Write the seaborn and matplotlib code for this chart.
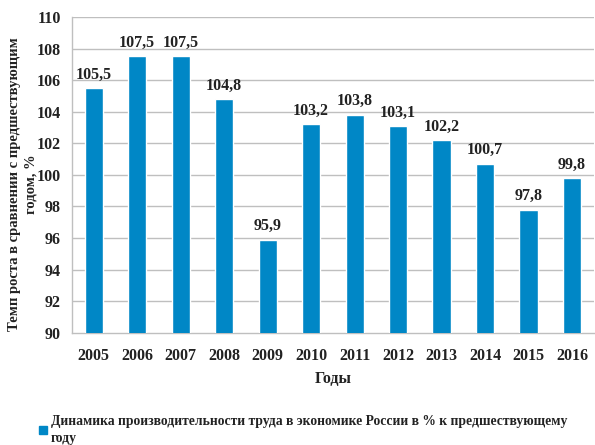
import matplotlib
matplotlib.use("Agg")
import matplotlib.pyplot as plt
import matplotlib.patches as mpatches
import seaborn as sns
import pandas as pd

years = ["2005", "2006", "2007", "2008", "2009", "2010",
         "2011", "2012", "2013", "2014", "2015", "2016"]
values = [105.5, 107.5, 107.5, 104.8, 95.9, 103.2,
          103.8, 103.1, 102.2, 100.7, 97.8, 99.8]
y_ticks = [90, 92, 94, 96, 98, 100, 102, 104, 106, 108, 110]

bar_color = "#0087C6"
grid_color = "#BFBFBF"
text_color = "#222222"

sns.set_theme(style="white")
plt.rcParams["font.family"] = ["Liberation Serif", "DejaVu Serif"]
plt.rcParams["font.weight"] = "bold"

df = pd.DataFrame({"year": years, "value": values})

fig = plt.figure(figsize=(5.95, 4.45), dpi=100)
ax = fig.add_axes([0.121, 0.252, 0.877, 0.710])

sns.barplot(data=df, x="year", y="value", color=bar_color, width=0.42,
            saturation=1, ax=ax, zorder=3)

ax.set_ylim(90, 110)
ax.set_yticks(y_ticks)
ax.set_yticklabels([str(t) for t in y_ticks], fontsize=11.5, fontweight="bold")
ax.set_xticks(range(len(years)))
ax.set_xticklabels(years, fontsize=11.5, fontweight="bold")
ax.set_xlim(-0.5, len(years) - 0.5)

for t in y_ticks[1:]:
    ax.axhline(t, color=grid_color, lw=1, zorder=1)

for i, v in enumerate(values):
    ax.text(i, v + 0.35, f"{v:.1f}".replace(".", ","), ha="center",
            va="bottom", fontsize=11.5, fontweight="bold", color=text_color)

for s in ["top", "right"]:
    ax.spines[s].set_visible(False)
for s in ["left", "bottom"]:
    ax.spines[s].set_color(grid_color)
    ax.spines[s].set_linewidth(1)

# category separator ticks under x axis
ax.set_xticks([i - 0.5 for i in range(len(years) + 1)], minor=True)
ax.tick_params(axis="x", which="minor", length=5, color=grid_color, width=1)
ax.tick_params(axis="x", which="major", length=0, pad=11, colors=text_color)
ax.tick_params(axis="y", which="major", length=5, color=grid_color, width=1,
               pad=3, colors=text_color)

ax.set_xlabel("Годы", fontsize=11.5, fontweight="bold", labelpad=5, color=text_color)
ax.set_ylabel("Темп роста в сравнении с предшествующим\nгодом, %", fontsize=10.5,
              fontweight="bold", color=text_color, linespacing=1.35)
ax.yaxis.set_label_coords(-0.066, 0.47)

handle = mpatches.Patch(color=bar_color)
leg = fig.legend([handle],
                 ["Динамика производительности труда в экономике России в % к предшествующему\nгоду"],
                 loc="lower left", bbox_to_anchor=(0.045, -0.028), frameon=False,
                 handlelength=0.55, handleheight=0.55, handletextpad=0.3,
                 prop={"weight": "bold", "size": 9.8})
for t in leg.get_texts():
    t.set_linespacing(1.45)
    t.set_color(text_color)

fig.savefig("out.png", dpi=100)
